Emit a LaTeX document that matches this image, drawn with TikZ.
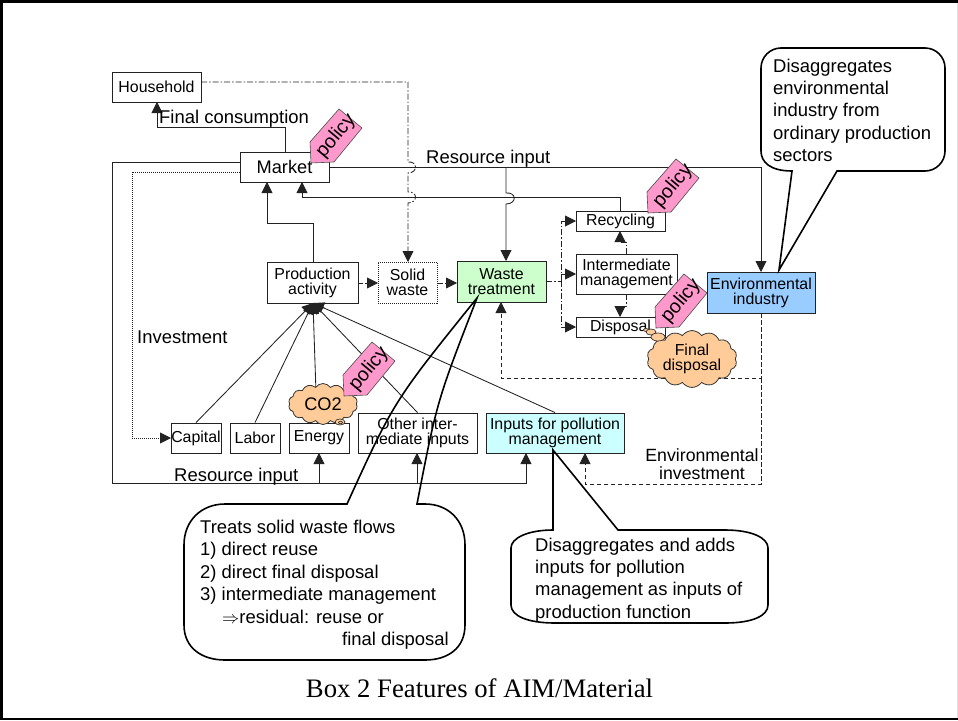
\documentclass[tikz,border=0pt]{standalone}
\usepackage{fontspec}
\setmainfont{Liberation Sans}
\newfontfamily\capfont{Liberation Serif}
\usetikzlibrary{arrows.meta,shapes.symbols,calc}
\definecolor{pinkp}{HTML}{FF99CC}
\definecolor{orgc}{HTML}{FFCC99}
\definecolor{grnb}{HTML}{CCFFCC}
\definecolor{blub}{HTML}{99CCFF}
\definecolor{cynb}{HTML}{CCFFFF}
\definecolor{lne}{HTML}{222222}
\newcommand{\fsmall}{\fontsize{15.9}{15}\selectfont}
\newcommand{\flarge}{\fontsize{18.45}{22.4}\selectfont}
\newcommand{\bx}[7][]{%
  \pgfmathsetmacro{\cxx}{(#3+#5)/2}\pgfmathsetmacro{\cyy}{(#4+#6)/2}%
  \pgfmathsetmacro{\wxx}{#5-#3}\pgfmathsetmacro{\hyy}{#6-#4}%
  \node[boxn,minimum width=\wxx pt,minimum height=\hyy pt,#1] (#2) at (\cxx,\cyy) {#7};}
\newcommand{\policytag}[3]{%
  \begin{scope}[shift={(#2,#3)}]
    \draw[tagshape] (0,0) -- (-1,-21) -- (28,-54) -- (51,-35) -- (23,-1) -- cycle;
    \node[rotate=50,font=\fontsize{19.5}{20}\selectfont] (#1) at (25,-27) {policy};
  \end{scope}}
\tikzset{
  boxn/.style={draw=lne,line width=.9pt,fill=white,inner sep=0pt,align=center,font=\fsmall,text=black},
  con/.style={draw=lne,line width=.85pt,-{Triangle[length=11pt,width=11pt]}},
  plain/.style={draw=lne,line width=.85pt},
  dd/.style={dash pattern=on 6pt off 2pt on 1.5pt off 2pt},
  dsh/.style={dash pattern=on 4.5pt off 2.5pt},
  dt/.style={dash pattern=on 1pt off 1pt},
  tagshape/.style={fill=pinkp,draw=black!70,line width=.6pt},
  cloudn/.style={cloud,draw=black!80,fill=orgc,line width=.8pt,inner sep=0pt,cloud puffs=14,cloud puff arc=110,aspect=1.7},
  bub/.style={draw=black!80,fill=orgc,line width=.7pt},
  call/.style={draw=black,line width=1.6pt,line join=miter},
  lbl/.style={font=\flarge,inner sep=0pt,anchor=base west},
}
\begin{document}
\begin{tikzpicture}[x=1pt,y=-1pt]
\useasboundingbox (0,0) rectangle (958,720);
\fill[white] (0,0) rectangle (958,720);
\fill[black] (0,0) rectangle (958,3);
\fill[black] (0,717.5) rectangle (958,720);
\fill[black] (0,0) rectangle (3,720);
\fill[black!12] (956.5,3) rectangle (958,717.5);

% boxes
\bx{hh}{112}{72}{201}{102}{Household}
\bx[font=\fontsize{18.2}{20}\selectfont]{mkt}{240}{152}{329}{182}{Market}
\bx{prod}{267}{262}{358}{303}{Production\\activity}
\bx[dash pattern=on 1pt off 1pt]{sw}{378}{262}{437}{303}{Solid\\waste}
\bx[fill=grnb]{wt}{457}{261}{546}{302}{Waste\\treatment}
\bx{rec}{576}{211}{665}{231}{Recycling}
\bx{im}{576}{254}{677}{294}{Intermediate\\management}
\bx{dis}{576}{317}{665}{337}{Disposal}
\bx[fill=blub]{env}{707}{272}{815}{313}{Environmental\\industry}
\bx{cap}{171}{423}{221}{453}{Capital}
\bx{lab}{230}{423}{280}{453}{Labor}
\bx{ene}{289}{423}{349}{453}{Energy}
\bx{oth}{358}{413}{477}{453}{Other inter-\\mediate inputs}
\bx[fill=cynb]{inp}{486}{413}{624}{453}{Inputs for pollution\\management}

% connectors
\coordinate (tip) at (313,303);
\draw[con] (cap.north) -- (tip);
\draw[con] (lab.north) -- (tip);
\draw[con] (ene.north) ++(-2,0) -- (tip);
\draw[con] (oth.north) -- (tip);
\draw[con] (inp.north) -- (tip);

\draw[con] (285,152) -- (285,127) -- (157,127) -- (157,102);
\draw[con] (313,262) -- (313,223) -- (267,223) -- (267,182);
\draw[con] (240,162) -- (112,162) -- (112,483) -- (526,483) -- (526,453);
\draw[con,dt] (240,172) -- (132,172) -- (132,438) -- (171,438);
\draw[con] (329,167) -- (761,167) -- (761,272);
\draw[con] (506,167) -- (506,193) .. controls (517,192) and (517,204) .. (506,204) -- (506,261);
\draw[con] (620,211) -- (620,197) -- (302,197) -- (302,182);
\draw[con,dd] (201,82) -- (408,82) -- (408,162) .. controls (418,161) and (418,173) .. (408,173) -- (408,192) .. controls (418,191) and (418,203) .. (408,203) -- (408,262);
\draw[con,dsh] (358,283) -- (378,283);
\draw[con,dd] (437,283) -- (457,283);
\draw[plain,dd] (546,281) -- (561,281);
\draw[con,dd] (561,281) -- (561,221) -- (576,221);
\draw[con,dd] (561,274) -- (576,274);
\draw[con,dd] (561,281) -- (561,327) -- (576,327);
\draw[con,dd] (626,254) -- (626,242) -- (620,242) -- (620,231);
\draw[con,dd] (626,294) -- (626,306) -- (620,306) -- (620,317);
\draw[con,dsh] (761,313) -- (761,378) -- (501,378) -- (501,302);
\draw[con,dsh] (761,378) -- (761,484) -- (585,484) -- (585,453);
\draw[con] (319,483) -- (319,453);
\draw[con] (417,483) -- (417,453);

% labels
\node[lbl] (l1) at (159,123) {Final consumption};
\node[lbl] (l2) at (426,163) {Resource input};
\node[lbl] (l3) at (137,343) {Investment};
\node[lbl] (l4) at (174,481) {Resource input};
\node[font=\fontsize{17.7}{17.5}\selectfont,inner sep=0pt,align=center] (l5) at (702,464) {Environmental\\investment};

% clouds
\node[cloudn,minimum width=69pt,minimum height=41pt,font=\fontsize{18.2}{20}\selectfont] (co2) at (323,404) {CO2};
\draw[bub] (340,422) ellipse (5 and 3);
\draw[bub] (340.5,422.5) ellipse (2 and 1.2);
\node[cloudn,minimum width=90pt,minimum height=54pt,font=\fsmall,align=center] (fd) at (692,359) {Final\\disposal};
\draw[bub] (646,330) ellipse (2.5 and 1.5);
\draw[bub] (651,332) ellipse (5 and 3);
\draw[bub] (658,337) ellipse (7 and 4);

% policy tags
\policytag{p1}{311}{163}
\policytag{p2}{648}{213}
\policytag{p3}{656}{328}
\policytag{p4}{344}{396}

% callouts
\draw[call] (792,171) -- (779,270) -- (837,171) -- (925,171)
  .. controls (936,171) and (945,162) .. (945,151) -- (945,68)
  .. controls (945,57) and (936,48) .. (925,48) -- (781,48)
  .. controls (770,48) and (761,57) .. (761,68) -- (761,151)
  .. controls (761,162) and (770,171) .. (792,171) -- cycle;
\node[font=\flarge,inner sep=0pt,align=left,anchor=north west] (t1) at (773,58.5) {Disaggregates\\environmental\\industry from\\ordinary production\\sectors};

\draw[call] (347,504) .. controls (394,401) .. (477,298) .. controls (437,401) .. (417,504) -- (425,504)
  .. controls (448,504) and (465,520) .. (465,545) -- (465,625)
  .. controls (465,648) and (448,660) .. (425,660) -- (225,660)
  .. controls (202,660) and (184,648) .. (184,625) -- (184,545)
  .. controls (184,520) and (202,504) .. (225,504) -- cycle;
\node[font=\flarge,inner sep=0pt,align=left,anchor=north west] (t2) at (200,520) {Treats solid waste flows\\1) direct reuse\\2) direct final disposal\\3) intermediate management\\\hspace*{22pt}$\Rightarrow$residual: reuse or\\\hspace*{142pt}final disposal};

\draw[call] (553,530) -- (553,450) -- (618,530) -- (725,530)
  .. controls (752,530) and (768,538) .. (768,548) -- (768,605)
  .. controls (768,616) and (752,623) .. (725,623) -- (555,623)
  .. controls (528,623) and (511,616) .. (511,605) -- (511,548)
  .. controls (511,538) and (528,530) .. (553,530) -- cycle;
\node[font=\flarge,inner sep=0pt,align=left,anchor=north west] (t3) at (535,537.5) {Disaggregates and adds\\inputs for pollution\\management as inputs of\\production function};

\node[font=\capfont\fontsize{26.7}{28}\selectfont,inner sep=0pt] (capt) at (479.5,688) {Box 2 Features of AIM/Material};
\end{tikzpicture}
\end{document}
